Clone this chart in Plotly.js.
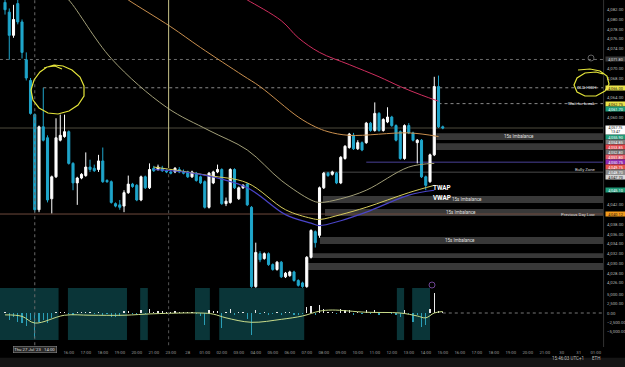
<!DOCTYPE html>
<html><head><meta charset="utf-8">
<script src="https://cdn.plot.ly/plotly-3.0.1.min.js"></script>
<style>html,body{margin:0;padding:0;background:#000;overflow:hidden}#chart{width:625px;height:367px}</style>
</head><body><div id="chart"></div>
<script>
// ---------- DATA ----------
const open  = [4083.5,4081.5,4076.75,4083.25,4079.5,4071.75,4067.5,4060.5,4041,4058,
4055.75,4043.25,4047.75,4055.25,4056,4057,4050.5,4046.5,4047.5,4048,
4049.75,4049.5,4049.25,4051,4047,4046.75,4042.25,4042,4041.75,4044.5,
4046.25,4046,4043,4047.75,4045.5,4049.5,4049.25,4049.5,4049,4048.75,
4048.75,4049.25,4048.75,4048.75,4047.75,4048.5,4047.75,4046.75,4041.5,4046.5,
4048.75,4049.25,4042.25,4042.5,4049.25,4043.25,4045.5,4046.25,4041.5,4025.25,
4032,4031,4032,4029.75,4028.75,4030.25,4027.25,4027.5,4028.25,4026.5,
4026,4025.25,4031.25,4036.5,4035.75,4045.5,4048.5,4048.25,4048.5,4046.5,
4051.5,4053.75,4056.25,4053.5,4054.75,4054.75,4058.75,4057.25,4060.75,4057.25,
4059,4060,4058.25,4057,4051.5,4058.25,4056.75,4054.75,4055.25,4047.75,
4046.75,4052.25,4066.25,4058];
const high  = [4084,4082.25,4083,4084,4080,4073.25,4068,4060.75,4058.25,4066,
4056.25,4048,4059.75,4060.5,4060.5,4057.25,4050.75,4047.75,4048.5,4052.75,
4051.25,4050.25,4052.25,4053.75,4047.25,4047,4042.5,4043,4045,4048,
4046.5,4046.25,4048,4048,4050.5,4050,4050.25,4050,4049.25,4049.25,
4049.75,4049.75,4049.25,4049,4049,4048.75,4048,4047,4048.75,4049,
4050.25,4049.5,4043.5,4049.5,4049.5,4045.75,4046.25,4046.5,4041.75,4034.25,
4032.5,4032.25,4032.25,4030,4030.5,4030.5,4028.25,4028.5,4028.5,4026.75,
4026.25,4031.5,4037,4036.75,4045.75,4048.75,4048.75,4049,4048.75,4052,
4054.25,4056.75,4056.75,4055.25,4055,4059,4059,4063,4061,4059.75,
4062,4060.25,4058.5,4057.25,4058.5,4058.75,4057,4055.5,4055.5,4048,
4052.5,4068.25,4068.5,4058.25];
const low   = [4081,4071.75,4076.25,4079,4072,4067.5,4060.5,4040.5,4040.5,4055,
4042.5,4040.25,4047.5,4055,4055.75,4050.25,4045,4042,4047.25,4047.75,
4048.75,4048.75,4048.75,4046.5,4046.5,4042.25,4041.5,4041,4040.5,4044.25,
4045.5,4042.75,4042.75,4045.25,4045.25,4048.75,4049,4048.75,4048.5,4048.25,
4048.5,4048.5,4048.25,4047.5,4047.5,4046.75,4046.25,4041.25,4041.25,4046.25,
4048.5,4042,4041.75,4042.25,4045.25,4043,4045.25,4041.75,4025,4025,
4030.25,4030.75,4029.5,4028.5,4028.5,4027,4027,4027.25,4026.25,4025.25,
4025,4025,4031,4033.25,4035.25,4045.25,4047.75,4048,4046.25,4046.25,
4051.25,4053.5,4053.25,4053.25,4053,4054.5,4057,4057,4057,4057,
4058.75,4058,4055,4051.25,4051.25,4056.5,4055,4050.5,4047.5,4045,
4046.5,4052,4057.75,4057.5];
const close = [4082,4076.75,4080,4079.5,4073.25,4068,4060.75,4041,4058,4055.25,
4043,4047.75,4055.75,4056.25,4057,4050.5,4046.5,4047.5,4048.25,4049.75,
4049.25,4049,4051,4046.75,4046.75,4042.5,4041.75,4041.5,4044.5,4046.25,
4045.75,4043,4047.75,4045.5,4049.25,4049,4049.75,4049,4048.75,4048.5,
4049.5,4048.75,4048.5,4047.75,4048.75,4047,4046.5,4041.5,4048.5,4048.75,
4049.25,4042.25,4042.75,4049.25,4045.5,4045.5,4046,4042,4025.25,4032.25,
4030.75,4032,4029.75,4028.75,4030.25,4027.25,4028,4028.25,4026.5,4025.5,
4025.25,4031.25,4036.75,4034.25,4045.5,4048.5,4048,4048.75,4046.5,4051.75,
4054,4056.5,4053.5,4054.75,4053.25,4058.75,4057.25,4060.75,4057.25,4059.5,
4060,4058.25,4055.25,4051.5,4058.25,4056.75,4055.25,4055.25,4047.75,4046,
4052.25,4066.25,4058,4057.75];
const delta = [300,-1900,-1000,-2500,-2700,-3500,-2000,-6700,-2400,-2000,
-2700,-1300,400,300,200,-400,-600,300,200,400,
200,-300,400,-500,-300,-1000,-1200,-800,500,600,
-200,-400,700,-300,1200,300,600,500,400,300,
500,400,300,300,400,-300,-800,-3200,800,600,
500,-4000,300,1000,-600,400,300,-1500,-5900,800,
-400,300,-500,-400,400,-600,300,300,-500,-600,
-400,1500,1800,-600,2200,1200,300,400,-300,1000,
900,800,-500,400,-400,900,-300,700,-500,400,
400,-300,-600,-1200,700,-400,-2400,-500,-3800,-3200,
1200,5400,600,400];
// cumulative line of the lower pane (sparse readings)
const cumIdx = [0,4,7,14,20,28,35,46,49,52,58,65,70,74,77,85,93,97,99,101,103];
const cumVal = [-500,-900,-2700,-600,-600,-600,-200,0,-300,-1300,-2500,-1700,-800,500,800,200,0,-800,-1300,0,400];
// moving averages / session lines (sparse readings)
const ma200Idx = [55,57,65,69,74,81,88,93,98,102];
const ma200Val = [4085,4084,4079.75,4076.25,4073.25,4070.75,4068.25,4066.25,4064.5,4063.25];
const ma100Idx = [27,29,39,46,56,60,69,73,76,81,95,102];
const ma100Val = [4085.25,4084,4078.5,4074.25,4068.5,4066.25,4060,4058,4057,4056.25,4056.75,4056];
const ma50Idx  = [13,15,25,38,48,57,65,72,74,79,85,95,101];
const ma50Val  = [4085.5,4084,4072,4062,4057.25,4053.25,4047,4043,4042.5,4043.25,4045,4049.75,4050.5];
const twapIdx  = [35,41,48,57,66,72,74,79,85,95,101];
const twapVal  = [4049.75,4049,4048,4046.5,4041,4039.25,4039,4040,4041.5,4044.5,4046];
const vwapIdx  = [35,46,57,66,72,74,79,85,95,101];
const vwapVal  = [4049.25,4048.25,4045.5,4040,4038.25,4037.75,4038.75,4040.5,4044,4045];
// imbalance zones: low, high, start bar
const zoneLow   = [4055.3,4053.25,4042.4,4039.7,4033.97,4031.1,4028.65];
const zoneHigh  = [4056.7,4054.65,4043.8,4041.15,4035.4,4032.1,4030.1];
const zoneStart = [101.5,101.5,74.8,75.3,74.1,71.8,71.3];
const zoneLabel = [1,0,1,1,1,0,0];
// shaded session blocks in lower pane (bar index)
const shadeStart = [-1.2,14.8,31.8,44.7,50.4,92.2,95.8];
const shadeEnd   = [12.6,28.7,33.6,48.2,70.4,93.9,100];
// time axis
const timeTickIdx  = [-1,15,19,23,27,31,35,39,43,47,51,55,59,63,67,71,75,79,83,87,91,95,99,103,107,111,115,119,123,127,131,135,139];
const timeTickText = ["12:00","16:00","17:00","18:00","19:00","20:00","21:00","23:00","28","01:00","02:00","03:00","04:00","05:00","06:00","07:00","08:00","09:00","10:00","11:00","12:00","13:00","14:00","15:00","16:00","17:00","18:00","19:00","20:00","21:00","30","31","01:00"];
// levels
const crossPrice = 4071.80, crossBar = 7;
const oldHigh = 4066.00, oldHighStart = 9;
const waitBreak = 4062.75, waitStart = 102;
const currentPrice = 4057.75;
const pdl = 4040.12;
const bullyZone = 4048.70, bullyStart = 75;
const purpleLevel = 4050.75, purpleStart = 85;
const sessionBar = 38.5, sessionTop = 4049.55;
// right-axis price tags
const tagPrice = [4066.00,4062.75,4061.70,4055.90,4054.85,4053.85,4052.80,4051.80,4050.75,4049.75,4048.70,4047.70,4045.10,4040.12];
const tagBg    = ['#ece34a','#ece34a','#1f9a78','#1f9a78','#7d7d7d','#e0474c','#6a6a6a','#e2606b','#8e2bb0','#e5534b','#8a8a8a','#d6d6d6','#1f9a78','#f39a1b'];
const tagFg    = ['#111','#111','#fff','#fff','#fff','#fff','#fff','#fff','#fff','#fff','#fff','#111','#fff','#111'];

// ---------- BUILD ----------
const X1 = 140.7;
const bars = open.map((_, i) => i);
const fmt = v => v.toLocaleString('en-US', {minimumFractionDigits: 2, maximumFractionDigits: 2});
const teal = '#1fa6cb';
const allTags = tagPrice.concat([crossPrice, currentPrice, currentPrice - 0.9]);
const priceTicks = [];
for (let p = 4026; p <= 4084; p += 2) if (allTags.every(t => Math.abs(t - p) > 1.15)) priceTicks.push(p);

const traces = [
  {type: 'candlestick', x: bars, open, high, low, close, xaxis: 'x', yaxis: 'y',
   increasing: {line: {color: '#ffffff', width: 1}, fillcolor: '#ffffff'},
   decreasing: {line: {color: teal, width: 1}, fillcolor: teal},
   whiskerwidth: 0, hoverinfo: 'skip'},
  {type: 'scatter', mode: 'lines', x: ma200Idx, y: ma200Val, yaxis: 'y', line: {color: '#cf2e5e', width: 1, shape: 'spline'}, hoverinfo: 'skip'},
  {type: 'scatter', mode: 'lines', x: ma100Idx, y: ma100Val, yaxis: 'y', line: {color: '#c98f4e', width: 1, shape: 'spline'}, hoverinfo: 'skip'},
  {type: 'scatter', mode: 'lines', x: ma50Idx, y: ma50Val, yaxis: 'y', line: {color: '#a29f78', width: 1, shape: 'spline'}, hoverinfo: 'skip'},
  {type: 'scatter', mode: 'lines', x: twapIdx, y: twapVal, yaxis: 'y', line: {color: '#d6cc5c', width: 1, shape: 'spline'}, hoverinfo: 'skip'},
  {type: 'scatter', mode: 'lines', x: vwapIdx, y: vwapVal, yaxis: 'y', line: {color: '#4a44c8', width: 1.2, shape: 'spline'}, hoverinfo: 'skip'},
  {type: 'bar', x: bars, y: delta, yaxis: 'y2', width: 0.3,
   marker: {color: delta.map(v => v >= 0 ? '#e8e8e8' : '#2a9fb6'), line: {width: 0}}, hoverinfo: 'skip'},
  {type: 'scatter', mode: 'lines', x: cumIdx, y: cumVal, yaxis: 'y2', line: {color: '#c9dc8a', width: 1, shape: 'spline'}, hoverinfo: 'skip'}
];

const PW = 603, PH = 347;
const px = (x, y) => [(x / PW).toFixed(4), ((PH - y) / PH).toFixed(4)];
const pathFrom = pts => pts.map((p, k) => (k ? 'L' : 'M') + px(p[0], p[1]).join(',')).join(' ');

const shapes = [];
shadeStart.forEach((s, k) => shapes.push({type: 'rect', xref: 'x', yref: 'paper', x0: s, x1: shadeEnd[k], y0: 0.02, y1: 0.170, fillcolor: '#0a3538', line: {width: 0}, layer: 'below'}));
zoneLow.forEach((lo, k) => shapes.push({type: 'rect', xref: 'x', yref: 'y', x0: zoneStart[k], x1: X1, y0: lo, y1: zoneHigh[k], fillcolor: '#383838', line: {width: 0}, layer: 'below'}));
const hline = (y, x0, color, dash, w) => shapes.push({type: 'line', xref: 'x', yref: 'y', x0, x1: X1, y0: y, y1: y, line: {color, width: w || 1, dash}, layer: 'below'});
hline(crossPrice, -1.2, '#6a6a6a', 'dot');
hline(oldHigh, oldHighStart, '#8a8a8a', 'dot');
hline(waitBreak, waitStart, '#8a8a8a', 'dot');
hline(currentPrice, -1.2, '#4d4b3c', 'solid');
hline(pdl, -1.2, '#6e4a3c', 'solid');
hline(bullyZone, bullyStart, '#4a4a4a', 'solid');
hline(purpleLevel, purpleStart, '#4a4196', 'solid');
shapes.push({type: 'line', xref: 'x', yref: 'y2', x0: 103, x1: X1, y0: 0, y1: 0, line: {color: '#777', width: 1, dash: 'dot'}});
shapes.push({type: 'line', xref: 'x', yref: 'paper', x0: crossBar, x1: crossBar, y0: 0.005, y1: 1, line: {color: '#6a6a6a', width: 1, dash: 'dot'}});
shapes.push({type: 'line', xref: 'x', yref: 'paper', x0: sessionBar, x1: sessionBar, y0: 0.005, y1: 0.5, line: {color: '#555', width: 1, dash: 'dot'}});
shapes.push({type: 'line', xref: 'x', yref: 'y', x0: sessionBar, x1: sessionBar, y0: sessionTop, y1: 4083.99, line: {color: '#c9c48a', width: 1}});
shapes.push({type: 'line', xref: 'paper', yref: 'paper', x0: 1.001, x1: 1.001, y0: 0, y1: 1, line: {color: '#333', width: 1}});
shapes.push({type: 'rect', xref: 'paper', yref: 'paper', x0: -0.01, x1: 1.04, y0: -0.06, y1: -0.031, fillcolor: '#151515', line: {width: 0}});
shapes.push({type: 'path', xref: 'paper', yref: 'paper', line: {color: '#e4e43a', width: 1.2},
  path: pathFrom([[62,69],[55,66],[47,67],[40,72],[34,80],[31,90],[33,100],[39,108],[48,113],[58,114],[69,111],[78,105],[84,96],[84,86],[80,77],[72,70],[63,66],[54,65],[44,68]])});
shapes.push({type: 'path', xref: 'paper', yref: 'paper', line: {color: '#e4e43a', width: 1.2},
  path: pathFrom([[578,70],[590,69],[600,71],[607,76],[609,84],[605,91],[596,96],[585,96],[577,92],[574,85],[577,78],[585,73],[596,72],[603,74]])});
shapes.push({type: 'circle', xref: 'paper', yref: 'paper', x0: 588/PW, x1: 594/PW, y0: (PH-61)/PH, y1: (PH-55)/PH, line: {color: '#777', width: 0.8}});
shapes.push({type: 'circle', xref: 'paper', yref: 'paper', x0: 429/PW, x1: 435/PW, y0: (PH-288)/PH, y1: (PH-282)/PH, line: {color: '#8a55b8', width: 0.8}});

const ann = [];
const txt = (o) => ann.push(Object.assign({showarrow: false, font: {family: 'Roboto, sans-serif', size: 4.5, color: '#e8e8e8'}}, o));
const tagFont = c => ({family: 'Roboto', size: 3.8, color: c});
txt({xref: 'paper', x: 1.003, xanchor: 'left', yref: 'y', y: crossPrice, text: fmt(crossPrice), bgcolor: '#3a3a3a', width: 19, height: 4.4, borderpad: 0, font: tagFont('#ddd')});
tagPrice.forEach((p, k) => txt({xref: 'paper', x: 1.003, xanchor: 'left', yref: 'y', y: p, text: fmt(p), bgcolor: tagBg[k], width: 19, height: 4.4, borderpad: 0, font: tagFont(tagFg[k])}));
txt({xref: 'paper', x: 1.003, xanchor: 'left', yref: 'y', y: currentPrice - 0.45, text: fmt(currentPrice) + '<br>13:47', bgcolor: '#ffffff', width: 19, height: 8, borderpad: 0, font: {family: 'Roboto', size: 3.6, color: '#111'}});
txt({xref: 'paper', x: 598/PW, xanchor: 'right', yref: 'y', y: oldHigh, text: 'OLD HIGH', font: {family: 'Roboto', size: 4.3, color: '#eee'}});
txt({xref: 'paper', x: 598/PW, xanchor: 'right', yref: 'y', y: waitBreak, text: 'Wait for break', font: {family: 'Roboto', size: 4.3, color: '#eee'}});
txt({xref: 'paper', x: 598/PW, xanchor: 'right', yref: 'y', y: bullyZone + 0.45, text: 'Bully Zone', font: {family: 'Roboto', size: 4.3, color: '#ddd'}});
txt({xref: 'paper', x: 598/PW, xanchor: 'right', yref: 'y', y: pdl, text: 'Previous Day Low', font: {family: 'Roboto', size: 4.3, color: '#ddd'}});
const zoneTextX = [120.9, 0, 108.6, 107.3, 107.0];
zoneLow.forEach((lo, k) => { if (zoneLabel[k]) txt({xref: 'x', x: zoneTextX[k], yref: 'y', y: (lo + zoneHigh[k]) / 2, text: '15s Imbalance', font: {family: 'Roboto', size: 4.5, color: '#e0e0e0'}}); });
txt({xref: 'x', x: 100.3, xanchor: 'left', yref: 'y', y: 4045.4, text: '<b>TWAP</b>', font: {family: 'Roboto', size: 6.3, color: '#ffffff'}});
txt({xref: 'x', x: 100.3, xanchor: 'left', yref: 'y', y: 4043.5, text: '<b>VWAP</b>', font: {family: 'Roboto', size: 6.3, color: '#ffffff'}});
txt({xref: 'x', x: crossBar, yref: 'paper', y: -0.0175, text: "Thu 27 Jul '23   14:00", bgcolor: '#2a2a2a', bordercolor: '#8a8a8a', borderwidth: 0.6, borderpad: 0.6, font: {family: 'Roboto', size: 4.3, color: '#ddd'}});
txt({xref: 'paper', x: 586/PW, xanchor: 'right', yref: 'paper', y: -0.046, text: '15:46:03 UTC+1', font: {family: 'Roboto', size: 4.5, color: '#bbb'}});
txt({xref: 'paper', x: 590/PW, xanchor: 'left', yref: 'paper', y: -0.046, text: 'ETH', font: {family: 'Roboto', size: 4.5, color: '#bbb'}});

const layout = {
  width: 625, height: 367, paper_bgcolor: '#000', plot_bgcolor: 'rgba(0,0,0,0)',
  margin: {l: 0, r: 22, t: 0, b: 20}, showlegend: false, bargap: 0,
  font: {family: 'Roboto, sans-serif', color: '#aaa', size: 5},
  xaxis: {range: [-1.18, X1], anchor: 'y2', showgrid: false, zeroline: false, showline: false, ticks: '',
          tickvals: timeTickIdx, ticktext: timeTickText, tickfont: {size: 4.3, color: '#9a9a9a'},
          ticklabelstandoff: 4, rangeslider: {visible: false}, fixedrange: true},
  yaxis: {domain: [0.1671, 1], range: [4024.75, 4083.99], side: 'right', anchor: 'x', tickformat: ',.2f',
          tickvals: priceTicks, showgrid: false, zeroline: false, showline: false, ticks: '',
          tickfont: {size: 4.3, color: '#b5b5b5'}, ticklabelstandoff: 3, fixedrange: true},
  yaxis2: {domain: [0.0058, 0.170], range: [-8600, 6720], side: 'right', anchor: 'x', tickformat: ',.2f',
          tickvals: [-5000, -2500, 0, 2500, 5000], showgrid: false, zeroline: false, showline: false, ticks: '',
          tickfont: {size: 4.3, color: '#b5b5b5'}, ticklabelstandoff: 3, fixedrange: true},
  shapes, annotations: ann
};
Plotly.newPlot('chart', traces, layout, {staticPlot: true, displayModeBar: false});
</script></body></html>
